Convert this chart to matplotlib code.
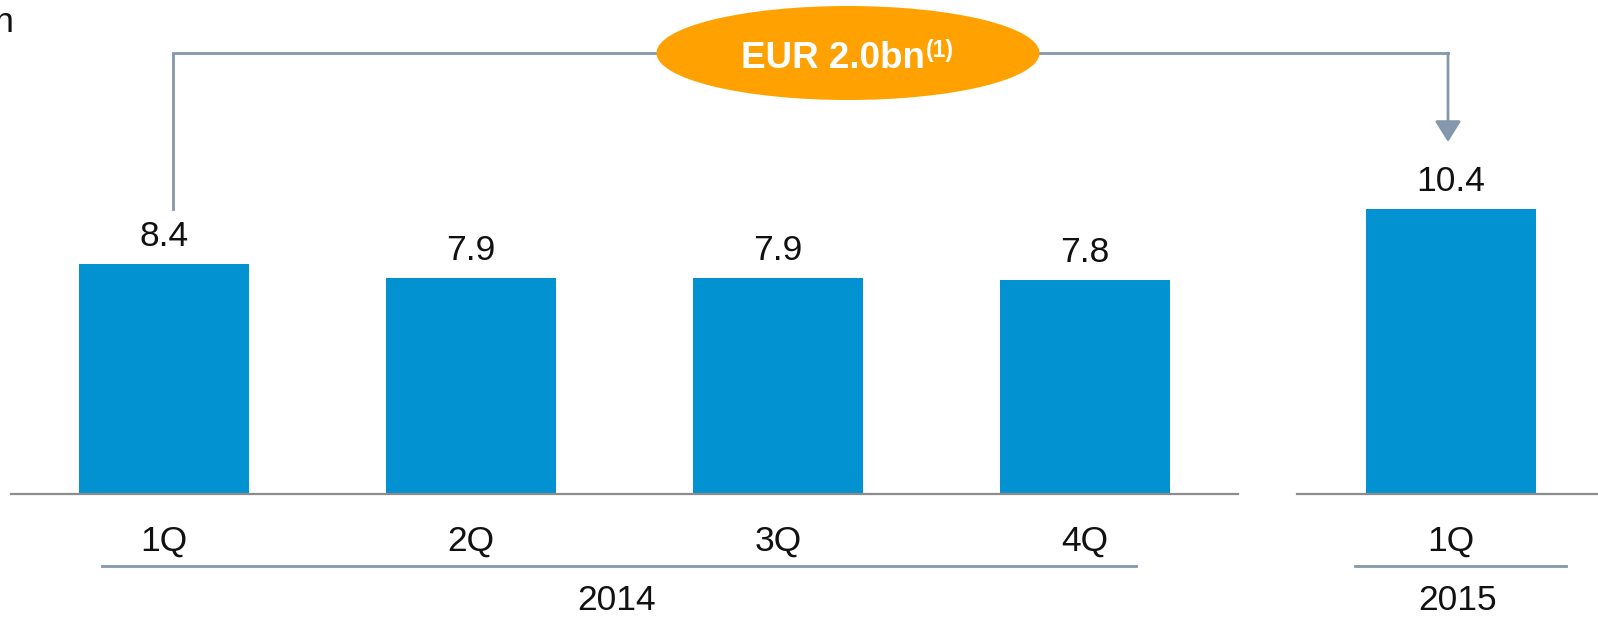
import matplotlib
matplotlib.use("Agg")
import matplotlib.pyplot as plt
from matplotlib.patches import Ellipse, FancyArrowPatch
from matplotlib.lines import Line2D

plt.rcParams['font.family'] = ['Liberation Sans', 'DejaVu Sans']

# ---- data ----
quarters = ["1Q", "2Q", "3Q", "4Q", "1Q"]
years = ["2014", "2015"]
values = [8.4, 7.9, 7.9, 7.8, 10.4]
value_labels = ["8.4", "7.9", "7.9", "7.8", "10.4"]
callout = "EUR 2.0bn"
callout_note = "(1)"
unit_label = "EUR bn"

W, H = 1598, 619
fig = plt.figure(figsize=(W / 100, H / 100), dpi=100)
ax = fig.add_axes([0, 0, 1, 1])
ax.axis('off')

positions = [0, 1, 2, 3, 4.192]
bar_color = "#0291D1"
ax.bar(positions, values, width=0.554, color=bar_color, zorder=2)
ax.set_xlim(-0.534, 4.671)
ax.set_ylim(-4.56, 18.03)

for p, v, lab in zip(positions, values, value_labels):
    ax.annotate(lab, (p, v), xytext=(0, 13), textcoords='offset points',
                ha='center', va='baseline', fontsize=25.5, color='#111111')

def fx(x):
    return x / W

def fy(y):
    return 1 - y / H

gray = "#8C8C8C"
slate = "#8497AD"
# baselines
fig.add_artist(Line2D([fx(11), fx(1238)], [fy(494), fy(494)], color=gray, lw=1.6, zorder=3))
fig.add_artist(Line2D([fx(1297), fx(1598)], [fy(494), fy(494)], color=gray, lw=1.6, zorder=3))

# category labels
for p, q in zip(positions, quarters):
    ax.text(p, -2.05, q, ha='center', va='baseline', fontsize=25.5, color='#111111')

# group underlines
fig.add_artist(Line2D([fx(102), fx(1136)], [fy(566), fy(566)], color=slate, lw=2))
fig.add_artist(Line2D([fx(1355), fx(1566)], [fy(566), fy(566)], color=slate, lw=2))
fig.text(fx(617), fy(601), years[0], ha='center', va='center', fontsize=25.5, color='#111111')
fig.text(fx(1458), fy(601), years[1], ha='center', va='center', fontsize=25.5, color='#111111')

# bracket
fig.add_artist(Line2D([fx(173), fx(173), fx(1448)], [fy(209), fy(53), fy(53)],
                      color=slate, lw=2, solid_joinstyle='miter'))
arrow = FancyArrowPatch((fx(1448), fy(53)), (fx(1448), fy(142)),
                        transform=fig.transFigure, arrowstyle='-|>,head_length=8,head_width=5',
                        color=slate, lw=2, shrinkA=0, shrinkB=0, mutation_scale=1.6)
fig.add_artist(arrow)

# ellipse callout
ell = Ellipse((fx(848), fy(53)), width=383 / W, height=94 / H,
              transform=fig.transFigure, facecolor="#FFA100", edgecolor='none', zorder=5)
fig.add_artist(ell)
fig.text(fx(925), fy(68), callout, ha='right', va='baseline', fontsize=26.5,
         fontweight='bold', color='white', zorder=6)
fig.text(fx(926), fy(57), callout_note, ha='left', va='baseline', fontsize=16.5,
         fontweight='bold', color='white', zorder=6)

# cut-off unit label at top-left (as in the reference)
fig.text(fx(14), fy(32), unit_label, ha='right', va='baseline', fontsize=25.5, color='#111111')

fig.savefig("out.png", dpi=100)
